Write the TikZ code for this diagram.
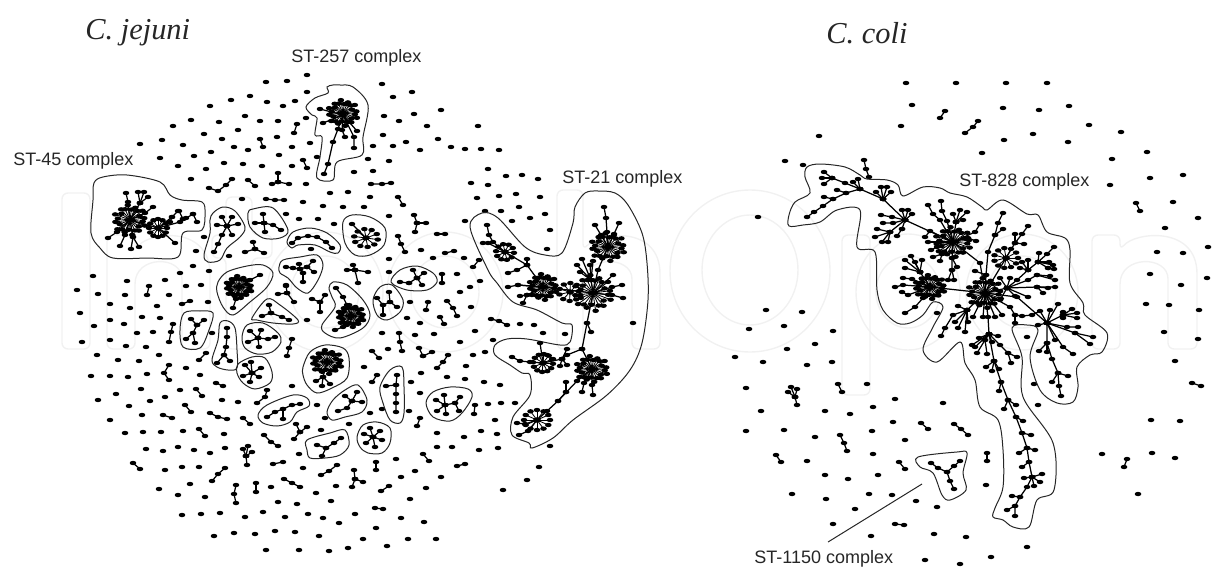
\documentclass[tikz,border=0pt]{standalone}
\usepackage{fontspec}
\setmainfont{Liberation Sans}
\newfontfamily\timesf{Liberation Serif}
\usetikzlibrary{plotmarks}
\definecolor{wm}{HTML}{F1F1F1}
\pgfdeclareplotmark{dd}{\pgfpathellipse{\pgfpointorigin}{\pgfqpoint{1.65pt}{0pt}}{\pgfqpoint{0pt}{1.1pt}}\pgfusepathqfill}
\tikzset{edge/.style={line width=0.62pt,black},
 spoke/.style={line width=0.42pt,black},
 hull/.style={line width=0.5pt,color=black!85},
 wmk/.style={line width=0.7pt,color=wm,rounded corners=3pt},
 lab/.style={font=\fontsize{9}{10}\selectfont,text=black!85,inner sep=0pt,anchor=west},
 ttl/.style={font=\fontsize{15.2}{17}\selectfont\timesf\itshape,text=black!85,inner sep=0pt,anchor=west}}
\newcommand\Dt[1]{\draw[edge] plot[only marks,mark=dd] coordinates {#1};}
\newcommand\Ch[1]{\draw[edge] plot[mark=dd] coordinates {#1};}
\newcommand\Fn[3]{\foreach \xa/\ya in {#3}{\draw[edge] plot[mark=dd] coordinates {(#1,#2)(\xa,\ya)};}}
\newcommand\Hu[1]{\draw[hull] plot[smooth cycle,tension=0.55] coordinates {#1};}
\newcommand\Ss[6]{\foreach \ii in {1,...,#5}{\pgfmathsetmacro\aa{#6+360*\ii/#5}\pgfmathsetmacro\xx{#1+#3*cos(\aa)}\pgfmathsetmacro\yy{#2+#4*sin(\aa)}\draw[spoke] plot[mark=dd] coordinates {(#1,#2)(\xx,\yy)};}}
\newcommand\Dn[4]{\foreach \ii/\ff in {1/1,2/0.7,3/0.9,4/0.76,5/1,6/0.66,7/0.88,8/0.8,9/1,10/0.7,11/0.92,12/0.76,13/1,14/0.68,15/0.9,16/0.78,17/1,18/0.7,19/0.88,20/0.76,21/1,22/0.66,23/0.9,24/0.8}{\pgfmathsetmacro\aa{7+15*\ii}\pgfmathsetmacro\xx{#1+\ff*#3*cos(\aa)}\pgfmathsetmacro\yy{#2+\ff*#4*sin(\aa)}\draw[spoke] plot[mark=dd] coordinates {(#1,#2)(\xx,\yy)};}}
\begin{document}
\begin{tikzpicture}[x=0.5pt,y=-0.5pt]
\useasboundingbox (0,0) rectangle (1218,567);
% faint background lettering
\draw[wmk] (62,193) rectangle (90,349);
\draw[wmk] (107,349) -- (107,235) -- (135,235) -- (135,250) .. controls (150,232) and (210,225) .. (210,280) -- (210,349) -- (182,349) -- (182,285) .. controls (182,255) and (135,255) .. (135,290) -- (135,349) -- cycle;
\draw[wmk] (226,197) -- (252,197) -- (252,235) -- (272,235) -- (272,258) -- (252,258) -- (252,349) -- (226,349) -- (226,258) -- (212,258) -- (212,235) -- (226,235) -- cycle;
\draw[wmk] (325,292) ellipse [x radius=58,y radius=60];
\draw[wmk] (325,292) ellipse [x radius=34,y radius=36];
\draw[wmk] (445,292) ellipse [x radius=58,y radius=60];
\draw[wmk] (445,292) ellipse [x radius=34,y radius=36];
\draw[wmk] (557,349) -- (557,190) -- (583,190) -- (583,250) .. controls (600,232) and (660,225) .. (660,280) -- (660,349) -- (632,349) -- (632,285) .. controls (632,255) and (583,255) .. (583,290) -- (583,349) -- cycle;
\draw[wmk] (750,271) ellipse [x radius=80,y radius=81];
\draw[wmk] (750,270) ellipse [x radius=48,y radius=55];
\draw[wmk] (842,395) -- (842,235) -- (870,235) -- (870,395) -- cycle;
\draw[wmk] (908,292) ellipse [x radius=52,y radius=58];
\draw[wmk] (908,292) ellipse [x radius=32,y radius=36];
\draw[wmk] (1022,292) ellipse [x radius=56,y radius=58];
\draw[wmk] (1022,292) ellipse [x radius=34,y radius=36];
\draw[wmk] (1092,349) -- (1092,235) -- (1120,235) -- (1120,250) .. controls (1135,232) and (1197,225) .. (1197,280) -- (1197,349) -- (1168,349) -- (1168,285) .. controls (1168,255) and (1120,255) .. (1120,290) -- (1120,349) -- cycle;
% labels
\node[ttl] (tj) at (85,33) {C. jejuni};
\node[ttl] (tc) at (826,33) {C. coli};
\node[lab] (l257) at (291,57.5) {ST-257 complex};
\node[lab] (l45) at (13,160.5) {ST-45 complex};
\node[lab] (l21) at (562,178.5) {ST-21 complex};
\node[lab] (l828) at (959,181.5) {ST-828 complex};
\node[lab] (l1150) at (754,558.5) {ST-1150 complex};
\coordinate (la) at (922,484); \coordinate (lb) at (828,542);
\draw[hull] (la) -- (lb);
% ---------- C. jejuni isolated
\Dt{(307,75)(266,82)(287,81)(307,92)(250,96)(231,100)(267,102)(283,106)(295,101)(210,106)(245,116)(191,120)(219,122)(260,121)(278,121)(306,118)(173,126)(238,130)(204,134)(222,139)(277,137)(140,144)(162,140)(183,145)(234,147)(248,150)(292,147)(310,143)(211,152)(194,156)(160,158)(279,155)(317,157)(224,163)(178,166)(206,169)(243,164)(262,166)(292,166)(191,179)(306,184)(330,193)(242,199)(303,202)(323,206)(299,219)(318,219)(334,224)(286,214)(204,237)(196,251)(193,266)(209,271)(229,256)(311,249)(180,273)(93,276)(127,281)(165,280)(186,286)(201,285)(286,286)(77,290)}
\Dt{(382,84)(393,97)(412,92)(441,110)(384,116)(399,121)(414,114)(427,126)(478,126)(383,135)(438,139)(373,146)(393,146)(406,142)(420,150)(451,147)(465,149)(481,149)(499,150)(368,159)(389,161)(354,172)(373,171)(488,169)(506,176)(522,175)(538,179)(471,183)(488,185)(348,192)(370,197)(477,198)(499,196)(516,194)(540,197)(343,207)(364,207)(485,211)(501,211)(519,207)(545,214)(389,216)(530,218)(465,221)(512,221)(550,230)(547,249)(421,250)(389,259)(433,258)(464,258)(389,272)(457,274)(480,281)(470,287)}
\Dt{(98,294)(125,295)(169,295)(110,304)(130,308)(157,306)(208,302)(80,313)(142,317)(160,318)(94,326)(110,320)(124,324)(137,333)(153,332)(212,333)(82,342)(110,340)(126,346)(146,347)(97,355)(118,360)(139,361)(159,355)(186,368)(91,376)(110,376)(128,377)(147,374)(200,375)(141,389)(180,390)(98,400)(116,394)(150,401)(165,397)(222,400)(238,402)(129,406)(142,415)(110,420)(125,433)(143,432)(161,432)(183,431)(224,434)(146,449)(163,451)(178,447)(194,450)(210,453)(225,448)(165,470)(182,467)(199,467)(190,484)(159,489)(178,495)(205,497)(182,515)(201,514)(220,513)(245,517)(263,512)(214,536)(234,533)(255,534)(275,531)(295,532)(319,536)(266,550)(299,550)(329,551)(271,487)(278,502)(297,504)(285,517)(308,514)(323,518)(339,523)(316,493)(331,501)(336,486)(303,468)(299,454)(321,430)(325,418)(317,405)(292,386)(307,320)}
\Dt{(460,292)(410,302)(471,307)(407,318)(420,323)(520,324)(534,325)(543,333)(565,334)(475,331)(382,333)(415,335)(434,334)(460,342)(493,340)(485,352)(473,355)(388,349)(364,367)(466,366)(421,373)(447,377)(465,379)(484,382)(500,385)(411,382)(420,393)(382,409)(370,413)(409,411)(488,404)(501,403)(515,403)(495,420)(349,424)(437,433)(481,431)(497,434)(464,437)(437,447)(452,447)(479,450)(498,448)(550,446)(396,459)(539,467)(527,480)(503,490)(415,471)(401,477)(441,477)(426,488)(410,499)(355,514)(401,518)(424,522)(376,528)(363,539)(387,546)(408,539)(436,539)(348,548)(633,323)}
% small graphs
\Ch{(260,139)(263,147)}\Ch{(297,124)(294,133)}\Ch{(303,160)(307,168)}\Ch{(209,188)(218,191)(226,185)(232,179)}\Ch{(248,180)(255,186)}\Fn{278}{182}{278/173,272/184,289/184}\Ch{(266,199)(275,200)(284,200)}
\Ch{(371,184)(382,184)(391,183)}\Ch{(398,197)(403,205)}\Fn{417}{223}{414/215,426/223,415/232}\Ch{(437,234)(445,234)}\Ch{(398,236)(401,244)(405,252)}\Ch{(445,253)(454,251)}\Ch{(473,267)(479,260)}\Ch{(442,274)(442,283)}
\Ch{(149,286)(147,295)}\Ch{(182,304)(190,301)}\Ch{(173,324)(171,332)(169,342)}\Ch{(206,353)(199,360)}\Ch{(169,365)(164,373)(169,380)}\Ch{(216,383)(223,386)}\Ch{(196,389)(202,396)}\Ch{(267,390)(265,397)(257,403)}\Ch{(185,405)(191,412)}\Ch{(163,415)(172,418)}\Ch{(210,413)(218,417)(227,419)}\Ch{(243,418)(250,424)}\Ch{(199,429)(205,436)}\Ch{(292,339)(289,348)(287,356)}\Fn{300}{432}{296/424,307/427,294/439}\Ch{(264,435)(271,442)(278,446)}\Fn{246}{456}{248/446,243/449,252/452,247/465}\Ch{(133,463)(140,469)}\Ch{(273,464)(283,462)}\Ch{(212,481)(218,474)(225,468)}\Ch{(321,475)(329,471)(337,465)}\Ch{(236,485)(234,494)(236,503)}\Ch{(256,483)(256,492)}\Ch{(284,479)(292,483)(300,487)}
\Ch{(428,302)(426,310)}\Ch{(447,301)(453,308)(457,316)}\Ch{(440,317)(444,324)}\Ch{(399,333)(400,342)(402,351)}\Ch{(491,319)(499,321)(507,325)}\Ch{(372,351)(379,358)}\Fn{423}{356}{419/348,432/352}\Ch{(448,355)(443,362)(437,368)}\Ch{(377,375)(372,382)}\Ch{(475,405)(474,414)}\Ch{(420,418)(417,426)}\Ch{(423,454)(429,461)}\Ch{(457,466)(465,464)}\Ch{(376,462)(376,470)}\Fn{355}{479}{354/470,363/482,352/487}\Ch{(389,486)(381,491)}\Ch{(375,508)(383,509)}
\Fn{355}{270}{353/265,347/270,368/272,358/283}\Fn{287}{293}{286/285,278/294,294/302}\Fn{320}{302}{325/295,312/299,320/312}\Fn{255}{249}{253/242,245/252,264/253}
% ST-45
\Hu{(94,183)(103,177)(127,175)(160,182)(170,195)(182,200)(202,202)(205,213)(202,230)(183,233)(178,257)(147,258)(113,258)(100,248)(91,233)(93,200)}
\Dn{130}{220}{16}{15}
\Ch{(130,220)(128,202)(126,193)}\Fn{140}{203}{138/192,144/192,148/197}\Ch{(130,220)(140,203)}\Ch{(130,220)(145,213)(153,207)}\Ch{(130,220)(117,232)(108,238)}\Ch{(130,220)(125,235)(120,246)}\Ch{(130,220)(133,237)(131,249)}\Ch{(133,237)(139,247)}
\Ch{(130,220)(158,228)}\Ss{158}{228}{9}{9}{12}{0}\Ch{(158,228)(172,217)(178,211)}\Fn{172}{217}{170/222}\Ch{(158,228)(180,222)(193,214)}\Fn{183}{219}{179/211,186/218}\Ch{(193,214)(197,222)}\Ch{(158,228)(175,243)}
% A..
\Hu{(213,213)(223,207)(235,211)(245,227)(240,237)(227,248)(220,260)(208,262)(204,255)(210,233)(210,220)}
\Fn{227}{226}{222/217,232/217,217/225,238/224,232/235}\Ch{(227,226)(222,235)(218,244)(214,252)}
\Hu{(248,213)(253,209)(273,208)(288,230)(280,238)(263,238)(250,227)}
\Fn{264}{223}{263/214,255/223,265/232}\Ch{(264,223)(273,225)(281,230)}
\Hu{(287,242)(293,232)(310,228)(327,233)(340,245)(338,253)(330,252)(315,245)(298,245)(292,248)}
\Ch{(292,243)(298,238)(308,236)(317,237)(326,242)(332,248)}
\Hu{(279,267)(283,260)(300,257)(317,255)(323,265)(318,280)(308,293)(297,288)(288,278)(280,273)}
\Fn{300}{269}{299/264,293/268,307/267,303/273}\Ch{(293,268)(286,267)}\Ch{(307,267)(313,261)}\Ch{(307,267)(314,272)}\Ch{(303,273)(303,282)}
\Hu{(391,282)(400,270)(417,266)(433,273)(437,282)(427,290)(407,290)}
\Fn{417}{278}{413/270,424/273,409/283,422/285}\Ch{(409,283)(400,282)}
\Hu{(373,300)(380,287)(392,285)(403,300)(400,312)(387,320)(377,315)}
\Ch{(389,292)(390,302)(397,307)}\Ch{(390,302)(383,305)(377,298)}\Ch{(383,305)(383,315)}
\Hu{(218,282)(227,272)(247,266)(263,265)(273,273)(267,287)(250,302)(233,315)(223,307)(217,292)}
\Dn{239}{287}{13}{11}\Ch{(239,287)(250,280)(260,275)}\Ch{(239,287)(236,299)(233,308)}
\Hu{(329,288)(333,282)(347,285)(363,300)(370,315)(363,328)(340,338)(325,333)(322,325)(335,307)(332,297)}
\Dn{351}{316}{13}{11}\Ch{(336,288)(343,297)(347,305)(351,316)}\Ch{(351,316)(343,327)(335,330)}
\Hu{(252,318)(267,299)(280,305)(298,320)(293,324)(273,323)(257,320)}
\Fn{271}{313}{269/305,262/316}\Ch{(271,313)(282,317)(289,320)}
\Hu{(242,337)(247,325)(263,323)(278,333)(281,342)(272,352)(257,354)(245,348)}
\Fn{258}{338}{250/331,261/330,248/342,259/347}\Ch{(258,338)(268,339)(275,337)}
\Hu{(220,323)(228,321)(235,328)(237,350)(237,368)(228,370)(217,367)(212,360)(218,340)}
\Ch{(227,328)(227,337)(226,347)(224,355)(217,363)}\Ch{(224,355)(230,361)}
\Hu{(184,313)(200,311)(213,313)(209,330)(200,348)(183,347)(180,330)}
\Fn{197}{325}{191/319,204/320}\Ch{(197,325)(193,333)(186,339)}\Ch{(193,333)(195,343)}
\Hu{(238,364)(252,357)(265,358)(272,372)(270,383)(255,389)(243,383)(237,373)}
\Fn{252}{373}{251/362,245/365,261/368,243/376,259/377,250/382}
\Hu{(303,367)(310,352)(325,345)(343,348)(349,358)(347,378)(332,388)(317,393)(307,385)(303,375)}
\Dn{327}{362}{15}{12}\Ch{(327,362)(323,377)(316,381)}\Ch{(323,377)(322,386)}\Ch{(323,377)(330,384)}
\Hu{(258,415)(267,405)(293,395)(307,398)(309,406)(297,412)(290,422)(277,426)(263,423)}
\Ch{(267,417)(275,412)(283,409)(292,405)(300,404)}\Ch{(283,409)(283,419)}
\Hu{(307,440)(330,433)(345,430)(349,445)(340,455)(325,458)(310,458)(307,450)}
\Ch{(317,445)(326,448)(334,443)(341,438)}\Ch{(326,448)(322,456)}
\Hu{(333,400)(345,390)(358,385)(367,400)(362,412)(345,417)(332,420)(327,412)}
\Fn{352}{401}{345/396,357/392,362/402}\Ch{(352,401)(347,408)(338,411)}
\Hu{(380,387)(390,370)(402,367)(404,387)(404,413)(400,423)(390,420)(383,403)}
\Ch{(397,375)(396,385)(396,394)(396,403)(396,412)}\Ch{(386,386)(396,385)}
\Hu{(357,437)(363,425)(377,422)(390,428)(390,443)(382,453)(368,453)(360,447)}
\Fn{373}{437}{370/428,380/431,364/434,382/440,366/443,375/447}
\Hu{(426,403)(433,392)(450,387)(468,389)(472,397)(462,413)(450,421)(433,417)}
\Fn{445}{405}{444/395,436/400,437/411,446/414}\Ch{(445,405)(455,403)(460,397)}\Ch{(455,403)(459,411)}
\Hu{(343,222)(352,215)(370,217)(385,228)(384,245)(370,255)(355,255)(345,243)}
\Ss{366}{238}{12}{9}{10}{10}\Ch{(366,238)(352,224)}
% ST-257
\Hu{(333,85)(327,87)(328,93)(315,98)(306,107)(312,115)(317,118)(315,135)(322,137)(320,157)(317,178)(333,180)(337,162)(362,155)(363,137)(368,105)(353,87)(340,85)}
\Dn{343}{113}{15}{13}\Fn{343}{115}{320/109,323/123}\Ch{(343,115)(338,129)(333,142)(328,164)(324,174)}\Ch{(343,115)(342,130)(345,137)}\Ch{(343,115)(354,137)(354,148)}\Ch{(343,115)(357,131)}
% ST-21
\Hu{(585,193)(598,191)(615,193)(628,205)(642,233)(647,263)(648,300)(642,343)(630,370)(607,395)(573,420)(553,438)(532,448)(529,443)(512,435)(513,417)(530,395)(530,375)(522,373)(510,365)(495,355)(495,345)(507,339)(527,339)(560,345)(570,342)(572,325)(562,323)(537,310)(513,302)(497,283)(488,270)(470,227)(482,213)(498,218)(525,247)(545,255)(562,253)(573,223)(575,207)}
\Ss{505}{252}{9}{8}{10}{-30}\Ch{(487,225)(489,235)(493,242)(505,252)}\Ch{(483,243)(488,243)(505,252)}
\Ch{(505,252)(527,265)(543,287)}\Ch{(527,259)(527,265)}\Ch{(527,265)(517,270)(508,273)}
\Dn{543}{287}{14}{13}\Fn{543}{287}{518/285,527/295}\Ch{(543,287)(518,285)(508,287)}\Ch{(527,295)(520,296)}\Ch{(527,295)(523,303)}
\Ss{570}{292}{11}{9}{10}{20}\Ch{(543,287)(593,293)}
\Dn{593}{293}{19}{18}
\Fn{591}{280}{582/259,593/261,577/265,580/272,590/265}\Ch{(591,280)(593,293)}
\Ch{(593,293)(613,275)}\Ch{(593,293)(612,287)(622,285)}\Ch{(593,293)(612,295)(623,298)}
\Dn{608}{247}{17}{14}\Ch{(604,207)(606,218)(607,232)(608,247)}\Ch{(595,225)(601,235)(608,247)}\Ch{(619,223)(614,234)(608,247)}\Ch{(608,247)(598,270)(593,293)}
\Ch{(593,293)(587,323)(582,349)}\Ch{(587,323)(591,332)}
\Ch{(582,349)(567,355)(562,359)(543,363)}\Fn{562}{359}{567/349,560/366,567/365}
\Ss{543}{363}{10}{9}{12}{5}\Ch{(540,343)(543,363)}\Ch{(512,357)(520,361)(530,362)(543,363)}\Ch{(547,355)(553,359)}
\Ch{(582,349)(592,369)}\Dn{592}{369}{16}{13}\Ch{(592,369)(592,385)(593,395)}\Ch{(592,369)(584,383)(582,392)}
\Ch{(592,369)(577,381)(558,401)(547,411)(537,420)}\Ch{(566,382)(566,392)}\Ch{(566,392)(558,401)}
\Ss{537}{420}{13}{10}{12}{0}\Ch{(537,420)(528,431)(519,435)}\Ch{(537,420)(525,424)(517,423)}
% ---------- C. coli isolated
\Dt{(766,310)(802,312)(749,329)(784,326)(833,331)(815,344)(787,349)(735,357)(763,362)(807,365)(832,362)(867,384)(746,388)(761,411)(825,411)(850,414)(873,407)(895,399)(943,403)(893,422)(746,431)(784,430)(815,437)(872,431)(905,440)(873,454)(807,461)(825,475)(848,479)(878,475)(792,494)(826,499)(869,494)(892,495)(916,501)(937,507)(855,509)(833,524)(871,536)(934,534)(925,560)(937,313)}
\Dt{(966,537)(1027,547)(991,557)(960,564)(986,485)(1034,384)(1038,405)(1027,337)(1173,202)(1198,218)(1165,228)(1157,252)(1183,253)(1208,247)(1150,274)(1181,285)(1207,278)(1146,304)(1169,305)(1199,310)(1164,332)(1198,339)(1175,361)(1151,420)(1180,421)(1102,454)(1152,453)(1175,458)(1138,494)}
\Dt{(906,83)(956,83)(912,105)(901,126)(819,136)(785,161)(803,165)(758,217)(1006,83)(1047,83)(1003,108)(1039,110)(1069,106)(1089,125)(1121,132)(1004,140)(1033,134)(1068,142)(1147,152)(982,153)(1112,159)(1150,178)(1183,175)(1110,185)}
\Ch{(838,384)(842,392)}\Fn{795}{397}{791/387,797/389,788/392,797/405}\Ch{(921,423)(928,429)}\Ch{(954,424)(961,429)(968,435)}\Ch{(840,435)(844,443)(847,451)}\Ch{(776,455)(781,462)}\Ch{(899,462)(905,469)}\Ch{(895,524)(904,525)}\Ch{(987,453)(987,461)}\Ch{(1136,203)(1140,211)}\Ch{(1192,383)(1201,386)}\Ch{(1127,459)(1124,467)}\Ch{(945,111)(940,118)}\Ch{(965,133)(973,127)(978,121)}\Ch{(864,160)(866,169)(869,177)}
% ST-1150
\Hu{(918,457)(957,452)(967,453)(963,473)(966,490)(950,500)(942,495)(933,473)(920,467)}
\Ch{(931,463)(938,468)(947,472)(954,466)(960,461)}\Ch{(947,472)(950,481)(954,489)}
% ST-828
\Hu{(789,226)(789,215)(795,202)(810,193)(805,177)(807,167)(820,164)(845,167)(860,175)(867,179)(887,180)(898,185)(903,196)(923,187)(940,188)(950,193)(967,197)(982,207)(987,210)(1003,200)(1027,214)(1038,215)(1047,232)(1065,238)(1070,250)(1070,283)(1083,303)(1085,315)(1107,333)(1102,352)(1090,355)(1077,367)(1078,387)(1073,402)(1057,403)(1040,390)(1030,357)(1038,330)(1027,325)(1012,328)(1022,357)(1023,397)(1053,443)(1054,490)(1037,500)(1029,527)(1013,527)(1003,520)(993,517)(995,508)(1003,487)(1003,450)(998,420)(980,407)(975,380)(965,363)(960,342)(937,362)(923,350)(933,327)(943,307)(933,302)(923,315)(910,323)(897,323)(883,310)(877,290)(875,252)(857,247)(860,210)(837,210)(820,222)(803,225)}
\Ch{(807,217)(814,212)(823,206)(833,199)(846,193)(860,189)}\Ch{(824,197)(833,199)}\Ch{(837,190)(846,193)}
\Ch{(860,189)(845,183)(832,178)}\Fn{832}{178}{824/172,822/178,824/184}\Fn{860}{189}{853/182,858/179}
\Ch{(860,189)(883,199)(905,220)}\Fn{883}{199}{876/192,881/187,887/187,891/192}
\Fn{905}{220}{902/210,908/210,912/214,902/229}\Ch{(905,220)(892,217)(881,215)}\Ch{(905,220)(893,223)(883,223)}\Ch{(905,220)(890,232)(877,229)}\Fn{890}{232}{875/237,882/242,888/242}\Ch{(902,229)(897,236)}
\Ch{(905,220)(953,242)}\Dn{953}{242}{18}{15}
\Ch{(953,242)(940,220)(933,214)(928,205)}\Ch{(953,242)(947,221)(942,211)(941,201)}\Ch{(953,242)(956,222)}\Fn{956}{222}{953/214,960/210,967/212,963/220}\Ch{(953,242)(975,232)(980,224)}\Ch{(953,242)(968,238)(976,241)}\Ch{(953,242)(930,231)(925,237)}\Ch{(953,242)(928,242)}\Ch{(953,242)(937,247)(931,250)}\Ch{(953,242)(942,254)(933,257)}\Ch{(942,254)(940,261)}\Ch{(953,242)(952,258)(952,270)(948,280)}\Ch{(952,270)(954,280)}\Ch{(952,258)(957,267)}
\Ch{(953,242)(980,263)(985,293)}
\Dn{930}{287}{15}{12}\Fn{920}{272}{911/256,922/260,915/262,905/260,905/268}\Ch{(920,272)(930,287)}\Ch{(930,287)(912,279)(903,278)}\Ch{(930,287)(903,285)(895,287)}\Ch{(930,287)(908,295)(902,292)}\Ch{(930,287)(923,298)(915,307)(905,313)}
\Ch{(930,287)(985,293)}
\Dn{985}{293}{17}{15}
\Ch{(985,293)(967,310)(958,306)}\Ch{(967,310)(953,315)(945,328)(941,336)}\Fn{967}{310}{955/322,958/328,965/332,968/322}
\Fn{985}{293}{973/317,983/317,995/317,1002/315}\Ch{(985,293)(988,317)(989,334)}
\Ch{(1003,213)(998,223)(995,235)(988,252)(986,275)(985,293)}\Ch{(1003,229)(995,235)}\Ch{(975,271)(986,275)}
\Ch{(985,293)(1006,258)}\Ss{1006}{258}{12}{10}{11}{0}\Ch{(1028,226)(1022,234)(1015,243)(1006,258)}\Ch{(1015,234)(1015,243)}\Ch{(1024,244)(1015,243)}
\Ch{(985,293)(1007,288)(1017,280)(1028,270)(1038,262)(1047,254)(1054,247)}\Fn{1028}{270}{1022/262,1028/260,1020/268}\Ch{(1039,253)(1038,262)}\Fn{1038}{262}{1049/262,1053/265,1048/268}\Ch{(1054,269)(1048,268)}
\Fn{1007}{288}{1000/278,1010/278,1015/296,1000/300}\Ch{(1007,288)(1028,280)(1037,275)(1050,276)}\Ch{(1037,275)(1055,280)}\Ch{(1007,288)(1037,287)(1055,287)}\Fn{1037}{287}{1048/288,1043/293}\Ch{(1007,288)(1028,297)}
\Ch{(985,293)(1017,297)(1047,323)}\Ch{(985,293)(1010,307)(1015,315)(1022,316)(1032,315)(1040,311)(1047,323)}\Ch{(1015,315)(1015,323)}
\Fn{1047}{323}{1038/325,1050/310}\Ch{(1047,323)(1058,304)}\Ch{(1047,323)(1063,315)(1072,309)}\Fn{1063}{315}{1063/312,1077/313,1077/318,1063/318}\Ch{(1047,323)(1067,327)(1078,327)}\Ch{(1047,323)(1075,333)(1093,337)}\Ch{(1075,333)(1090,344)}\Ch{(1047,323)(1063,347)(1073,354)}\Ch{(1047,323)(1055,340)}
\Ch{(1047,323)(1047,343)(1052,359)(1058,373)(1059,386)(1061,396)}\Fn{1047}{343}{1039/351,1047/352}\Fn{1058}{373}{1052/382,1068/376}
\Ch{(989,334)(994,361)(1001,382)(1008,400)(1016,417)(1022,433)(1027,448)(1029,462)(1032,477)(1027,487)(1020,497)(1015,506)(1015,516)}
\Fn{994}{361}{986/367,992/371,999/369}\Ch{(1001,382)(999,391)}\Ch{(1008,400)(1004,409)}\Ch{(1008,400)(1016,405)}\Ch{(1016,417)(1023,421)}\Ch{(1022,433)(1031,435)}\Fn{1027}{448}{1019/453,1035/450}\Ch{(1029,462)(1022,467)}\Fn{1032}{477}{1042/474,1024/478,1040/482,1034/486}\Ch{(1020,497)(1012,496)}\Ch{(1015,506)(1007,510)}
\Fn{989}{334}{979/338,998/336,992/342,975/347}\Ch{(989,334)(972,345)}\Ch{(989,334)(985,340)(977,353)}\Ch{(985,340)(987,354)}\Ch{(989,334)(1000,345)(1008,353)(1017,357)}\Ch{(1008,353)(1011,363)}
\end{tikzpicture}
\end{document}
